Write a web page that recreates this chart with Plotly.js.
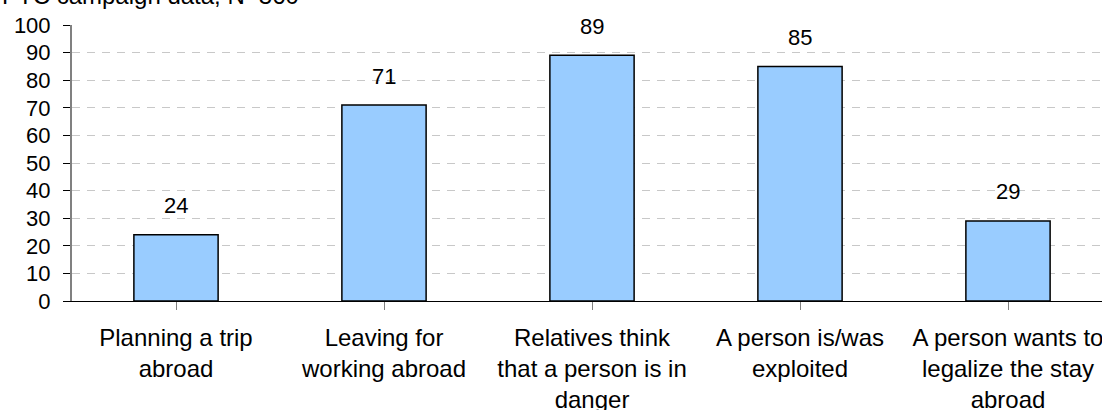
<!DOCTYPE html>
<html>
<head>
<meta charset="utf-8">
<script src="https://cdn.plot.ly/plotly-3.0.1.min.js"></script>
<style>
html, body { margin: 0; padding: 0; background: #fff; }
#chart { width: 1102px; height: 410px; }
</style>
</head>
<body>
<div id="chart"></div>
<script>
const titleText = "PTC campaign data, N=360";
const categories = ["c1", "c2", "c3", "c4", "c5"];
const tickLabels = [
  "Planning a trip<br>abroad",
  "Leaving for<br>working abroad",
  "Relatives think<br>that a person is in<br>danger",
  "A person is/was<br>exploited",
  "A person wants to<br>legalize the stay<br>abroad"
];
const values = [24, 71, 89, 85, 29];
const yTicks = [0, 10, 20, 30, 40, 50, 60, 70, 80, 90, 100];

const FONT = "Liberation Sans, Arial, sans-serif";

const trace = {
  type: "bar",
  x: categories.map((c, i) => i),
  y: values,
  width: 0.405,
  marker: { color: "#99CCFF", line: { color: "#000000", width: 1.5 } },
  hoverinfo: "none"
};

const annotations = values.map((v, i) => ({
  x: i, y: v, xref: "x", yref: "y",
  text: String(v), showarrow: false,
  yanchor: "middle", yshift: 29,
  font: { family: FONT, size: 22, color: "#000" }
}));
annotations.push({
  x: -72 / 1030, y: 1 + 14 / 276, xref: "paper", yref: "paper",
  xanchor: "left", yanchor: "bottom", showarrow: false,
  text: titleText,
  font: { family: FONT, size: 24, color: "#000" }
});

const layout = {
  width: 1102, height: 410,
  margin: { l: 72, r: 0, t: 25, b: 109, pad: 0 },
  paper_bgcolor: "#fff", plot_bgcolor: "#fff",
  showlegend: false,
  font: { family: FONT, size: 22, color: "#000" },
  xaxis: {
    range: [-0.5, -0.5 + 1030 / 208],
    tickmode: "array",
    tickvals: categories.map((c, i) => i),
    ticktext: tickLabels,
    tickson: "boundaries",
    ticks: "outside", ticklen: 8, tickcolor: "#808080", tickwidth: 1,
    ticklabelstandoff: 7,
    ticklabeloverflow: "allow",
    showline: true, linecolor: "#000", linewidth: 1,
    showgrid: false, zeroline: false,
    tickfont: { family: FONT, size: 24, color: "#000" },
    fixedrange: true
  },
  yaxis: {
    range: [0, 100],
    tickmode: "array",
    tickvals: yTicks,
    ticktext: yTicks.map(String),
    ticks: "outside", ticklen: 7, tickcolor: "#000", tickwidth: 1,
    ticklabelstandoff: 8,
    showline: true, linecolor: "#808080", linewidth: 2,
    showgrid: true, gridcolor: "#c8c8c8", gridwidth: 1, griddash: "8px,7px",
    zeroline: false,
    tickfont: { family: FONT, size: 22, color: "#000" },
    fixedrange: true
  },
  annotations: annotations
};

Plotly.newPlot("chart", [trace], layout, { staticPlot: true, displayModeBar: false });
</script>
</body>
</html>
